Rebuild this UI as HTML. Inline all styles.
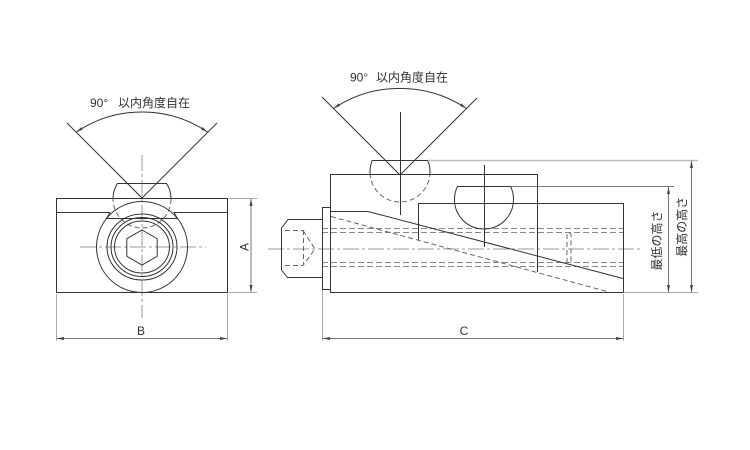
<!DOCTYPE html>
<html><head><meta charset="utf-8"><style>
html,body{margin:0;padding:0;background:#fff;}
svg{display:block;}
text{font-family:"Liberation Sans","Noto Sans CJK JP",sans-serif;fill:#333;}
.s{stroke:#333;stroke-width:1;fill:none;}
.h{stroke:#666;stroke-width:1;fill:none;stroke-dasharray:5 3;}
.hb{stroke:#888;stroke-width:1;fill:none;stroke-dasharray:6 3;}
.c{stroke:#999;stroke-width:1;fill:none;stroke-dasharray:16 3 3 3;}
.d{stroke:#777;stroke-width:1;fill:none;}
.e{stroke:#aaa;stroke-width:1;fill:none;}
.a{fill:#444;stroke:none;}
</style></head><body>
<svg width="750" height="450" viewBox="0 0 750 450" xmlns="http://www.w3.org/2000/svg">
<defs>
<clipPath id="lTop"><rect x="0" y="183" width="750" height="15"/></clipPath>
<clipPath id="lBot"><rect x="0" y="198" width="750" height="252"/></clipPath>
<clipPath id="rTop"><rect x="0" y="160" width="750" height="14"/></clipPath>
<clipPath id="rBot"><rect x="0" y="174" width="750" height="276"/></clipPath>
<clipPath id="p2"><rect x="0" y="186" width="750" height="264"/></clipPath>
</defs>

<!-- ============ LEFT VIEW ============ -->
<text x="90" y="107" font-size="12">90°</text>
<text x="118" y="107" font-size="12">以内角度自在</text>
<line class="s" x1="142" y1="198" x2="67" y2="123"/>
<line class="s" x1="142" y1="198" x2="217" y2="123"/>
<path class="s" d="M76.2,132.2 A117,117 0 0 1 207.8,132.2"/>
<polygon class="a" points="76.2,132.2 82.9,129.5 81.2,127.1"/>
<polygon class="a" points="207.8,132.2 201.1,129.5 202.8,127.1"/>

<line class="c" x1="142" y1="155" x2="142" y2="318"/>
<line class="c" x1="80" y1="247" x2="206" y2="247"/>

<rect class="s" x="56.5" y="198.5" width="171" height="94"/>
<polyline class="s" points="56.5,212.5 110,212.5 106.5,218.5 177.5,218.5 174,212.5 227.5,212.5"/>

<line class="s" x1="118" y1="183.5" x2="166" y2="183.5"/>
<circle class="s" cx="142" cy="199" r="29" clip-path="url(#lTop)"/>
<circle class="h" cx="142" cy="199" r="29" clip-path="url(#lBot)"/>

<circle class="s" cx="142" cy="247" r="45.5"/>
<ellipse class="s" cx="142" cy="247" rx="35" ry="33"/>
<ellipse class="s" cx="142" cy="247" rx="31" ry="29.5"/>
<ellipse class="s" cx="142" cy="247" rx="27.5" ry="26"/>
<polygon class="s" points="142,230 157.2,238.75 157.2,256.25 142,265 126.8,256.25 126.8,238.75"/>

<line class="e" x1="229" y1="198.5" x2="257" y2="198.5"/>
<line class="e" x1="229" y1="292.5" x2="257" y2="292.5"/>
<line class="d" x1="251" y1="199" x2="251" y2="292"/>
<polygon class="a" points="251,198.5 249.5,206 252.5,206"/>
<polygon class="a" points="251,292.5 249.5,285 252.5,285"/>
<text transform="translate(248.5,247) rotate(-90)" text-anchor="middle" font-size="12">A</text>

<line class="e" x1="56.5" y1="294" x2="56.5" y2="341"/>
<line class="e" x1="227.5" y1="294" x2="227.5" y2="341"/>
<line class="d" x1="57" y1="338.5" x2="227" y2="338.5"/>
<polygon class="a" points="56.5,338.5 64,337 64,340"/>
<polygon class="a" points="227.5,338.5 220,337 220,340"/>
<text x="141" y="335" text-anchor="middle" font-size="12">B</text>

<!-- ============ RIGHT VIEW ============ -->
<text x="350" y="81.5" font-size="12">90°</text>
<text x="376" y="81.5" font-size="12">以内角度自在</text>
<line class="s" x1="400" y1="175" x2="322" y2="97"/>
<line class="s" x1="400" y1="175" x2="477" y2="98"/>
<path class="s" d="M333.5,108.5 A119.7,119.7 0 0 1 466.5,108.5"/>
<polygon class="a" points="333.5,108.5 340.1,105.9 338.5,103.4"/>
<polygon class="a" points="466.5,108.5 459.9,105.9 461.5,103.4"/>

<line class="s" x1="400.5" y1="112" x2="400.5" y2="215"/>
<line class="s" x1="372.5" y1="160.5" x2="427.5" y2="160.5"/>
<circle class="s" cx="400" cy="172" r="30" clip-path="url(#rTop)"/>
<circle class="h" cx="400" cy="172" r="30" clip-path="url(#rBot)"/>

<line stroke="#bbb" stroke-width="1.5" x1="428" y1="160.5" x2="698" y2="160.5"/>
<line class="d" x1="511" y1="186.5" x2="674" y2="186.5"/>
<line class="e" x1="624" y1="292.5" x2="698" y2="292.5"/>

<line class="c" x1="268" y1="249" x2="641" y2="249"/>

<line class="hb" x1="322" y1="228.5" x2="623" y2="228.5"/>
<line class="hb" x1="322" y1="232.5" x2="623" y2="232.5"/>
<line class="hb" x1="322" y1="262.5" x2="623" y2="262.5"/>
<line class="hb" x1="322" y1="266.5" x2="623" y2="266.5"/>
<polyline class="h" stroke-dasharray="4 2" points="567,263 567,234.5 569,232.5 571,234.5 571,263"/>

<line class="h" x1="331" y1="216.5" x2="607" y2="291.5"/>

<polyline class="s" points="330.5,292.5 330.5,174.5 537.5,174.5 537.5,272"/>
<line class="s" x1="330" y1="292.5" x2="623.5" y2="292.5"/>
<polyline class="s" points="418.5,240 418.5,203.5 623.5,203.5 623.5,292.5"/>
<polyline class="s" points="330.5,211.5 368,211.5 623,278.5"/>

<line class="s" x1="458" y1="186.5" x2="510" y2="186.5"/>
<circle class="s" cx="484" cy="199.5" r="29.5" clip-path="url(#p2)"/>
<line class="s" x1="484.5" y1="165" x2="484.5" y2="247"/>

<rect class="s" x="322.5" y="207.5" width="8" height="82"/>

<path class="s" d="M322,219.5 H288 L281.5,228 V270 L287.5,277.5 H322"/>
<line class="h" x1="285" y1="230.5" x2="303" y2="230.5"/>
<line class="h" x1="285" y1="265.5" x2="303" y2="265.5"/>
<line class="h" x1="303.5" y1="230" x2="303.5" y2="265"/>
<polyline class="h" stroke-dasharray="4 2" points="303,230.5 315,249 303,265.5"/>

<line class="e" x1="322.5" y1="290" x2="322.5" y2="341"/>
<line class="e" x1="623.5" y1="294" x2="623.5" y2="341"/>
<line class="d" x1="323" y1="338.5" x2="623" y2="338.5"/>
<polygon class="a" points="322.5,338.5 330,337 330,340"/>
<polygon class="a" points="623.5,338.5 616,337 616,340"/>
<text x="464" y="335" text-anchor="middle" font-size="12">C</text>

<line class="d" x1="668.5" y1="187" x2="668.5" y2="292"/>
<polygon class="a" points="668.5,186.5 667,194 670,194"/>
<polygon class="a" points="668.5,292.5 667,285 670,285"/>
<line class="d" x1="691.5" y1="161" x2="691.5" y2="292"/>
<polygon class="a" points="691.5,160.5 690,168 693,168"/>
<polygon class="a" points="691.5,292.5 690,285 693,285"/>
<text transform="translate(661,240.5) rotate(-90)" text-anchor="middle" font-size="12">最低の高さ</text>
<text transform="translate(686,226.7) rotate(-90)" text-anchor="middle" font-size="12">最高の高さ</text>
</svg>
</body></html>
